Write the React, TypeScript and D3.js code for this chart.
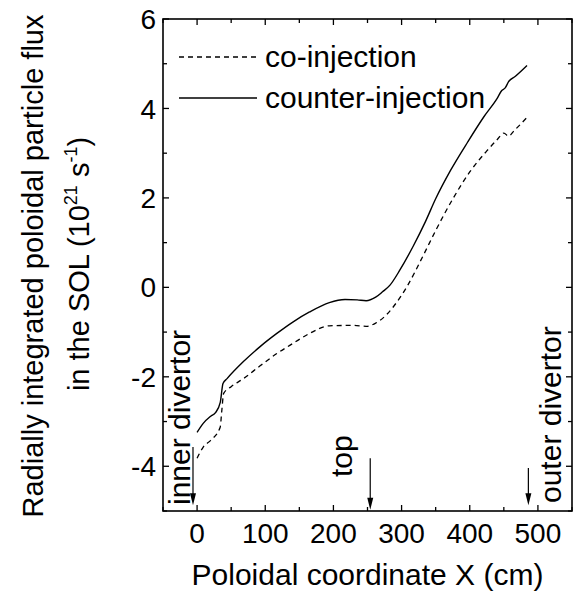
import React from "react";
import * as d3 from "d3";

const coX = [0, 9, 20, 34, 36, 39, 50, 68, 92, 117, 141, 165, 194, 229, 248, 262, 278, 293, 308, 332, 351, 376, 400, 425, 440, 450, 457, 465, 484];
const coY = [-3.82, -3.57, -3.42, -3.12, -2.8, -2.37, -2.22, -2.04, -1.76, -1.48, -1.25, -1.03, -0.86, -0.85, -0.87, -0.8, -0.61, -0.33, 0.02, 0.72, 1.3, 2.0, 2.58, 3.05, 3.3, 3.45, 3.38, 3.5, 3.8];

const counterX = [0, 9, 20, 27, 34, 38, 44, 68, 92, 117, 141, 165, 194, 217, 235, 248, 262, 272, 283, 298, 317, 335, 350, 372, 397, 421, 440, 447, 452, 457, 467, 484];
const counterY = [-3.24, -3.04, -2.88, -2.8, -2.57, -2.15, -2.04, -1.66, -1.33, -1.03, -0.77, -0.55, -0.34, -0.27, -0.28, -0.3, -0.22, -0.1, 0.05, 0.4, 0.92, 1.47, 1.98, 2.62, 3.25, 3.82, 4.22, 4.4, 4.46, 4.6, 4.72, 4.96];

const xMajor = [0, 100, 200, 300, 400, 500];
const xMinor = [-50, 50, 150, 250, 350, 450, 550];
const yMajor = [-4, -2, 0, 2, 4, 6];
const yMinor = [-5, -3, -1, 1, 3, 5];

const annotations = [
  { label: "inner divertor", x: -6, from: -3.57, to: -4.87, tx: 190, ty: 505 },
  { label: "top", x: 254, from: -3.82, to: -4.97, tx: 352, ty: 477 },
  { label: "outer divertor", x: 486, from: -4.04, to: -4.87, tx: 561, ty: 503 },
];

const FONT = "'Liberation Sans', Arial, Helvetica, sans-serif";

export default function App() {
  const L = 163, R = 572, T = 19, B = 511;
  const x = d3.scaleLinear().domain([-50, 550]).range([L, R]);
  const y = d3.scaleLinear().domain([-5, 6]).range([B, T]);
  const line = d3
    .line<[number, number]>()
    .x((d) => x(d[0]))
    .y((d) => y(d[1]))
    .curve(d3.curveMonotoneX);
  const coPath = line(coX.map((v, i) => [v, coY[i]]) as [number, number][]) || "";
  const counterPath = line(counterX.map((v, i) => [v, counterY[i]]) as [number, number][]) || "";
  const majLen = 6, minLen = 4;

  return (
    <svg
      width={578}
      height={595}
      style={{ position: "absolute", left: 0, top: 0, background: "#fff" }}
      fontFamily={FONT}
    >
      <rect x={0} y={0} width={578} height={595} fill="#fff" />
      {/* ticks */}
      <g stroke="#000" strokeWidth={1.3}>
        {xMajor.map((v) => (
          <g key={"xM" + v}>
            <line x1={x(v)} x2={x(v)} y1={B} y2={B - majLen} />
            <line x1={x(v)} x2={x(v)} y1={T} y2={T + majLen} />
          </g>
        ))}
        {xMinor.map((v) => (
          <g key={"xm" + v}>
            <line x1={x(v)} x2={x(v)} y1={B} y2={B - minLen} />
            <line x1={x(v)} x2={x(v)} y1={T} y2={T + minLen} />
          </g>
        ))}
        {yMajor.map((v) => (
          <g key={"yM" + v}>
            <line x1={L} x2={L + majLen} y1={y(v)} y2={y(v)} />
            <line x1={R} x2={R - majLen} y1={y(v)} y2={y(v)} />
          </g>
        ))}
        {yMinor.map((v) => (
          <g key={"ym" + v}>
            <line x1={L} x2={L + minLen} y1={y(v)} y2={y(v)} />
            <line x1={R} x2={R - minLen} y1={y(v)} y2={y(v)} />
          </g>
        ))}
      </g>
      <rect x={L} y={T} width={R - L} height={B - T} fill="none" stroke="#000" strokeWidth={1.6} />

      {/* tick labels */}
      <g fontSize={28} fill="#000">
        {xMajor.map((v) => (
          <text key={"xl" + v} x={x(v)} y={543} textAnchor="middle">
            {v}
          </text>
        ))}
        {yMajor.map((v) => (
          <text key={"yl" + v} x={156} y={y(v)} dy="0.36em" textAnchor="end">
            {v}
          </text>
        ))}
      </g>

      {/* axis titles */}
      <text x={367.5} y={585} fontSize={30} textAnchor="middle">
        Poloidal coordinate X (cm)
      </text>
      <text transform="translate(43,266) rotate(-90)" fontSize={29} textAnchor="middle">
        Radially integrated poloidal particle flux
      </text>
      <text transform="translate(89,264) rotate(-90)" fontSize={29} textAnchor="middle">
        in the SOL (10
        <tspan fontSize={18} dy={-12}>21</tspan>
        <tspan dy={12}> s</tspan>
        <tspan fontSize={18} dy={-12}>-1</tspan>
        <tspan dy={12}>)</tspan>
      </text>

      {/* curves */}
      <path d={coPath} fill="none" stroke="#000" strokeWidth={1.3} strokeDasharray="5,4" />
      <path d={counterPath} fill="none" stroke="#000" strokeWidth={1.4} />

      {/* legend */}
      <line x1={179} x2={257} y1={57} y2={57} stroke="#000" strokeWidth={1.3} strokeDasharray="5,4" />
      <text x={265} y={67} fontSize={30}>co-injection</text>
      <line x1={179} x2={257} y1={98} y2={98} stroke="#000" strokeWidth={1.4} />
      <text x={265} y={108} fontSize={30}>counter-injection</text>

      {/* annotations */}
      {annotations.map((a) => {
        const ax = x(a.x);
        const y1 = y(a.from);
        const y2 = y(a.to);
        return (
          <g key={a.label}>
            <line x1={ax} x2={ax} y1={y1} y2={y2 - 8} stroke="#000" strokeWidth={1.2} />
            <path d={`M${ax},${y2} L${ax - 3},${y2 - 12} L${ax + 3},${y2 - 12} Z`} fill="#000" />
            <text transform={`translate(${a.tx},${a.ty}) rotate(-90)`} fontSize={30}>
              {a.label}
            </text>
          </g>
        );
      })}
    </svg>
  );
}
